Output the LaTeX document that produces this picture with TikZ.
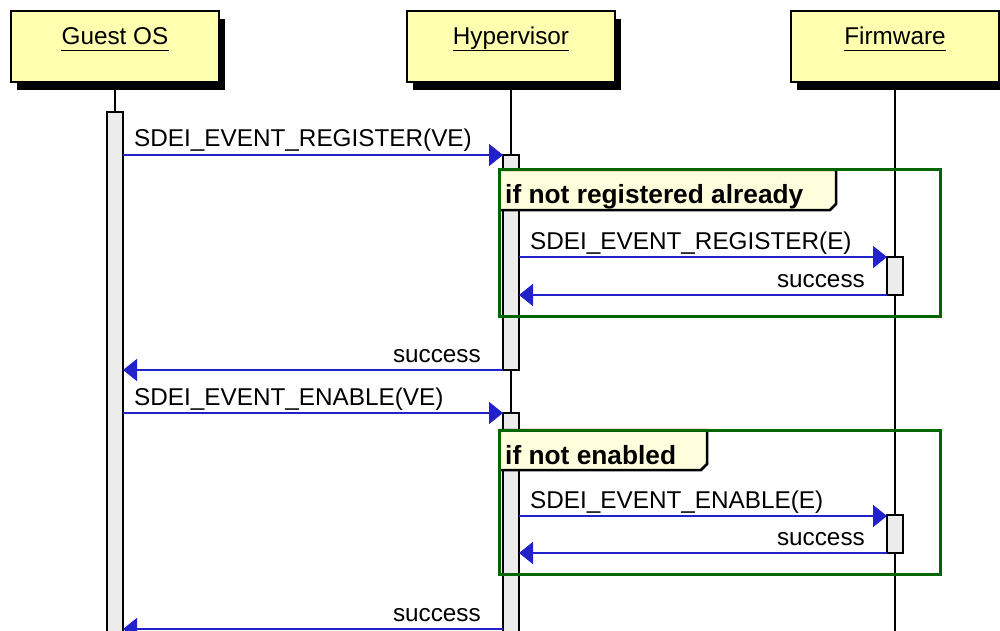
\documentclass[tikz,border=0pt]{standalone}
\usepackage{fontspec}
\setmainfont{Liberation Sans}
\usetikzlibrary{arrows.meta,calc}

\definecolor{hdrfill}{RGB}{255,255,176}
\definecolor{tabfill}{RGB}{255,255,221}
\definecolor{barfill}{RGB}{236,236,236}
\definecolor{msgblue}{RGB}{34,34,204}
\definecolor{framegreen}{RGB}{0,102,0}

\tikzset{
  participant/.style={draw=black, line width=1.5pt, fill=hdrfill,
    minimum width=208pt, minimum height=71pt, inner sep=0pt},
  hdrshadow/.style={fill=black},
  hdrtext/.style={anchor=base, inner sep=0pt},
  lifeline/.style={draw=black, line width=1.5pt},
  actbar/.style={draw=black, line width=1.5pt, fill=barfill},
  msg/.style={draw=msgblue, line width=1.5pt, -{Triangle[length=14pt,width=22pt]}},
  msgtext/.style={inner sep=0pt},
  frame/.style={draw=framegreen, line width=3pt},
  tab/.style={draw=black, line width=2.5pt, fill=tabfill},
  tabtext/.style={anchor=base west, inner sep=0pt, font=\fontsize{26.3}{30}\selectfont\bfseries},
}

\begin{document}
\begin{tikzpicture}[x=1pt, y=-1pt, font=\fontsize{24.3}{28}\selectfont]
\useasboundingbox (0,0) rectangle (1000,631);
\clip (0,0) rectangle (1000,631);

% participant headers with drop shadows
\foreach \cx in {115,511,895}
  \fill[hdrshadow] (\cx-104+6,11+8) rectangle (\cx+104+6,82+8);
\node[participant] (guest) at (115,46.5) {};
\node[participant] (hyp)   at (511,46.5) {};
\node[participant] (fw)    at (895,46.5) {};

\node[hdrtext] (guestl) at (115,45) {Guest OS};
\node[hdrtext] (hypl)   at (511,45) {Hypervisor};
\node[hdrtext] (fwl)    at (895,45) {Firmware};
\foreach \l in {guestl,hypl,fwl}
  \draw[line width=1.5pt] ($(\l.base west)+(0,5.5)$) -- ($(\l.base east)+(0,5.5)$);

% lifelines
\coordinate (guestend) at (115,640);
\coordinate (hypend)   at (511,640);
\coordinate (fwend)    at (895,640);
\draw[lifeline] (guest.south) -- (guestend);
\draw[lifeline] (hyp.south) -- (hypend);
\draw[lifeline] (fw.south) -- (fwend);

% activation bars
\draw[actbar] (107,112) rectangle (123,640);
\draw[actbar] (503,155) rectangle (519,370);
\draw[actbar] (503,413) rectangle (519,640);
\draw[actbar] (887,257) rectangle (903,295);
\draw[actbar] (887,515) rectangle (903,553);

% combined fragments
\draw[tab] (499,170) -- (836,170) -- (836,204) -- (830,210) -- (499,210);
\node[tabtext] (opt1) at (505,204) {if not registered already};
\draw[frame] (499,170) rectangle (940,316);

\draw[tab] (499,430) -- (707,430) -- (707,464) -- (701,470) -- (499,470);
\node[tabtext] (opt2) at (505,464) {if not enabled};
\draw[frame] (499,430) rectangle (940,574);

% message end points
\coordinate (a1) at (123,155); \coordinate (b1) at (503,155);
\coordinate (a2) at (519,257); \coordinate (b2) at (887,257);
\coordinate (a3) at (887,295); \coordinate (b3) at (519,295);
\coordinate (a4) at (503,370); \coordinate (b4) at (123,370);
\coordinate (a5) at (123,413); \coordinate (b5) at (503,413);
\coordinate (a6) at (519,516); \coordinate (b6) at (887,516);
\coordinate (a7) at (887,553); \coordinate (b7) at (519,553);
\coordinate (a8) at (503,629); \coordinate (b8) at (123,629);

% messages
\draw[msg] (a1) -- (b1);
\node[msgtext, anchor=base west] at ($(a1)+(11,-8)$) {SDEI\_EVENT\_REGISTER(VE)};
\draw[msg] (a2) -- (b2);
\node[msgtext, anchor=base west] at ($(a2)+(11,-8)$) {SDEI\_EVENT\_REGISTER(E)};
\draw[msg] (a3) -- (b3);
\node[msgtext, anchor=base east] at ($(a3)+(-22,-8)$) {success};
\draw[msg] (a4) -- (b4);
\node[msgtext, anchor=base east] at ($(a4)+(-22,-8)$) {success};
\draw[msg] (a5) -- (b5);
\node[msgtext, anchor=base west] at ($(a5)+(11,-8)$) {SDEI\_EVENT\_ENABLE(VE)};
\draw[msg] (a6) -- (b6);
\node[msgtext, anchor=base west] at ($(a6)+(11,-8)$) {SDEI\_EVENT\_ENABLE(E)};
\draw[msg] (a7) -- (b7);
\node[msgtext, anchor=base east] at ($(a7)+(-22,-8)$) {success};
\draw[msg] (a8) -- (b8);
\node[msgtext, anchor=base east] at ($(a8)+(-22,-8)$) {success};
\end{tikzpicture}
\end{document}
